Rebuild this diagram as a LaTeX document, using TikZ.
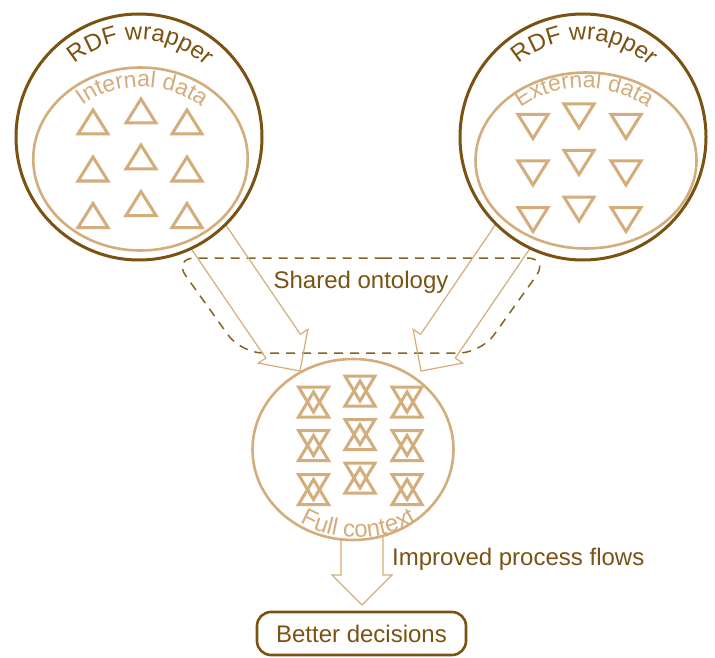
\documentclass[tikz,border=0pt]{standalone}
\usepackage{fontspec}
\setmainfont{Liberation Sans}
\usetikzlibrary{decorations.text,shapes.geometric,calc}
\definecolor{dk}{HTML}{7A5312}
\definecolor{tn}{HTML}{D3AD7B}
\definecolor{dsh}{HTML}{86641F}
\newcommand\hollowarrow[3]{%
  \draw[arrline, shift={(#1)}, rotate=#2] (-#3,21) -- (-30,21) -- (-30,30) -- (0,0) -- (-30,-30) -- (-30,-21) -- (-#3,-21);}
\newcommand\utri[2]{\draw[tri] (#1-15,#2+12) -- (#1+15,#2+12) -- (#1,#2-12) -- cycle;}
\newcommand\dtri[2]{\draw[tri] (#1-15,#2-12) -- (#1+15,#2-12) -- (#1,#2+12) -- cycle;}
\newcommand\hglass[2]{%
  \draw[tri] (#1-15,#2-15) -- (#1+15,#2-15) -- (#1,#2+10) -- cycle;
  \draw[tri] (#1-15,#2+15) -- (#1+15,#2+15) -- (#1,#2-10) -- cycle;}
\begin{document}
\begin{tikzpicture}[x=1pt,y=-1pt,
  outer/.style={circle, draw=dk, line width=3pt, fill=white, minimum size=246pt, inner sep=0pt},
  inner/.style={ellipse, draw=tn, line width=2.6pt, inner sep=0pt},
  tri/.style={draw=tn, line width=3pt},
  arrline/.style={draw=tn, line width=1.2pt, line join=miter},
  dashline/.style={draw=dsh, line width=1.5pt, dash pattern=on 9pt off 7pt},
  lbl/.style={text=dk, font=\fontsize{24}{28}\selectfont, inner sep=0pt},
  box/.style={draw=dk, line width=2.6pt, rounded corners=14pt, minimum width=209pt, minimum height=43pt, inner sep=0pt, text=dk, font=\fontsize{24}{28}\selectfont},
  curvedk/.style={decorate, decoration={text along path, text align=center,
     text={|\fontsize{24}{28}\selectfont\color{dk}|RDF wrapper}}},
]
\useasboundingbox (0,0) rectangle (715,658);

% dashed shared ontology region
\draw[dashline] (361,258) [rounded corners=22pt] -- (549,258) -- (481,353) -- (241,353) -- (173,258) -- cycle;

% arrow tips
\coordinate (ltip) at (300,371);
\coordinate (rtip) at (421,371);
\coordinate (btip) at (362,605);
\hollowarrow{ltip}{-55.7}{175}
\hollowarrow{rtip}{-124.3}{175}
\hollowarrow{btip}{-90}{80}

% outer circles
\node[outer] (lc) at (139,137) {};
\node[outer] (rc) at (583,137) {};

% inner ellipses
\node[inner, minimum width=214.5pt, minimum height=183pt] (le) at (140.5,159) {};
\node[inner, minimum width=221pt, minimum height=176pt] (re) at (586,160.5) {};

% curved labels (paths are the baselines)
\path[curvedk] (139,137) ++(185:97) arc[start angle=185, end angle=357, radius=97];
\path[curvedk] (583,137) ++(185:97) arc[start angle=185, end angle=357, radius=97];
\path[decorate, decoration={text along path, text align=center,
   text={|\fontsize{23}{27}\selectfont\color{tn}|Internal data}}]
   (141,159) ++(185:87 and 72) arc[start angle=185, end angle=357, x radius=87, y radius=72];
\path[decorate, decoration={text along path, text align=center,
   text={|\fontsize{23}{27}\selectfont\color{tn}|External data}}]
   (584,160.5) ++(185:92 and 72.5) arc[start angle=185, end angle=355, x radius=92, y radius=72.5];

% triangles internal
\utri{93}{122}\utri{141}{111}\utri{187}{122}
\utri{93}{169}\utri{141}{157}\utri{187}{169}
\utri{93}{215.5}\utri{141}{203.5}\utri{187}{215.5}
% triangles external
\dtri{533}{126.5}\dtri{579}{116}\dtri{626}{126.5}
\dtri{533}{173}\dtri{579}{162.5}\dtri{626}{173}
\dtri{533}{219.5}\dtri{579}{209}\dtri{626}{219.5}

% full context ellipse
\node[inner, fill=white, minimum width=201pt, minimum height=181pt] (fc) at (353,449.5) {};
\hglass{313.5}{402}\hglass{360}{391}\hglass{407}{402}
\hglass{313.5}{445.5}\hglass{360}{434.5}\hglass{407}{445.5}
\hglass{313.5}{489.5}\hglass{360}{478}\hglass{407}{489.5}
\path[decorate, decoration={text along path, text align=center,
   text={|\fontsize{24}{28}\selectfont\color{tn}|Full context}}]
   (357,449.5) ++(168:102 and 88) arc[start angle=168, end angle=10, x radius=102, y radius=88];

% labels
\node[lbl, anchor=base] (so) at (361,288) {Shared ontology};
\node[lbl, anchor=base west] (ipf) at (392,565) {Improved process flows};
\node[box] (bd) at (361.5,633.5) {Better decisions};
\end{tikzpicture}
\end{document}
